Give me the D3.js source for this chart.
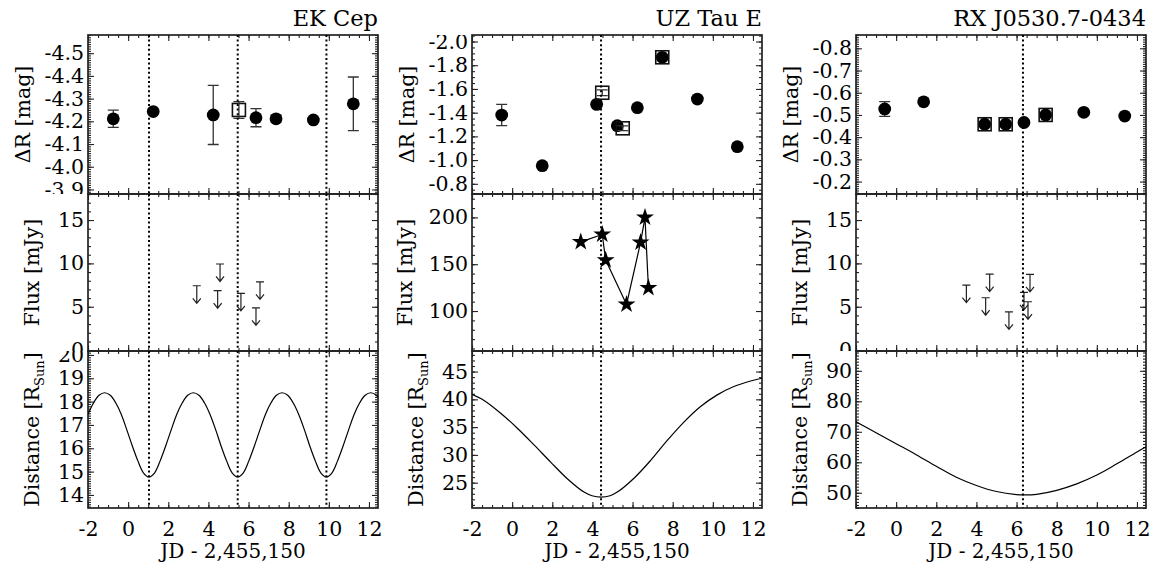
<!DOCTYPE html>
<html>
<head>
<meta charset="utf-8">
<script src="https://cdn.jsdelivr.net/npm/d3@7"></script>
<style>
  body { margin: 0; background: #fff; }
  svg text { font-family: "DejaVu Serif", serif; fill: #000; }
</style>
</head>
<body>
<svg id="chart" width="1151" height="566"></svg>
<script>
// ---- data ----
const titles = ["EK Cep", "UZ Tau E", "RX J0530.7-0434"];

// EK Cep
const ekPhotJD  = [-0.74, 1.25, 4.24, 6.37, 7.37, 9.23, 11.22];
const ekPhotMag = [-4.211, -4.243, -4.228, -4.216, -4.211, -4.206, -4.277];
const ekPhotErr = [0.038, 0.006, 0.13, 0.04, 0.015, 0.01, 0.118];
const ekSqJD  = [5.52];
const ekSqMag = [-4.25];
const ekSqErr = [0.037];
const ekFluxJD  = [3.42, 4.58, 4.46, 5.62, 6.57, 6.37];
const ekFluxLim = [7.42, 9.93, 6.85, 6.55, 7.88, 4.88];
const ekPeri = [1.04, 5.46, 9.88];
const ekDistJD = [-2.0, -1.72, -1.45, -1.17, -0.89, -0.62, -0.34, -0.07, 0.21, 0.49, 0.76,
  1.04, 1.32, 1.59, 1.87, 2.15, 2.42, 2.70, 2.97, 3.25, 3.53, 3.80, 4.08, 4.36, 4.63, 4.91, 5.18,
  5.46, 5.74, 6.01, 6.29, 6.57, 6.84, 7.12, 7.39, 7.67, 7.95, 8.22, 8.50, 8.78, 9.05, 9.33, 9.60,
  9.88, 10.16, 10.43, 10.71, 10.99, 11.26, 11.54, 11.81, 12.09, 12.37, 12.64];
const ekDistR = [17.45, 17.95, 18.27, 18.38, 18.27, 17.95, 17.45, 16.80, 16.10, 15.45, 14.95,
  14.77, 14.95, 15.45, 16.10, 16.80, 17.45, 17.95, 18.27, 18.38, 18.27, 17.95, 17.45, 16.80, 16.10, 15.45, 14.95,
  14.77, 14.95, 15.45, 16.10, 16.80, 17.45, 17.95, 18.27, 18.38, 18.27, 17.95, 17.45, 16.80, 16.10, 15.45, 14.95,
  14.77, 14.95, 15.45, 16.10, 16.80, 17.45, 17.95, 18.27, 18.38, 18.27, 17.95];

// UZ Tau E
const uzPhotJD  = [-0.52, 1.50, 4.21, 5.24, 6.24, 7.48, 9.23, 11.22];
const uzPhotMag = [-1.380, -0.953, -1.470, -1.290, -1.442, -1.867, -1.515, -1.113];
const uzPhotErr = [0.09, 0, 0, 0, 0, 0, 0, 0];
const uzSqJD  = [4.49, 5.51, 7.48];
const uzSqMag = [-1.568, -1.268, -1.867];
const uzSqErr = [0.025, 0.02, 0];
const uzFluxJD  = [3.42, 4.49, 4.66, 5.70, 6.40, 6.62, 6.79];
const uzFluxMJy = [173.9, 181.8, 154.4, 107.0, 173.3, 200.0, 124.8];
const uzPeri = [4.43];
const uzDistJD = [-2.0, -1.4, -0.57, 0.26, 1.09, 1.92, 2.75, 3.58, 3.98, 4.43, 4.88, 5.24, 6.07, 6.90, 7.73, 8.56, 9.39, 10.22, 11.05, 11.88, 12.45];
const uzDistR  = [40.9, 39.8, 37.5, 34.8, 31.8, 28.7, 25.7, 23.3, 22.65, 22.4, 22.65, 23.3, 25.8, 29.0, 32.6, 35.9, 38.7, 40.8, 42.3, 43.3, 43.8];

// RX J0530.7-0434
const rxPhotJD  = [-0.57, 1.37, 4.41, 5.46, 6.37, 7.45, 9.35, 11.39];
const rxPhotMag = [-0.527, -0.559, -0.458, -0.458, -0.466, -0.500, -0.512, -0.495];
const rxPhotErr = [0.033, 0, 0, 0, 0, 0, 0, 0];
const rxSqJD  = [4.41, 5.46, 7.45];
const rxSqMag = [-0.458, -0.458, -0.500];
const rxSqErr = [0, 0, 0];
const rxFluxJD  = [3.50, 4.66, 4.46, 5.62, 6.37, 6.67, 6.57];
const rxFluxLim = [7.50, 8.77, 6.04, 4.42, 6.66, 8.74, 5.58];
const rxPeri = [6.32];
const rxDistJD = [-2, -1, 0, 1, 2, 3, 4, 5, 6, 6.4, 7, 8, 9, 10, 11, 12, 12.45];
const rxDistR  = [73.3, 69.7, 66.1, 62.5, 58.7, 55.1, 52.4, 50.4, 49.4, 49.3, 49.5, 50.8, 52.9, 55.8, 59.5, 63.4, 65.1];

const xTicks = [-2, 0, 2, 4, 6, 8, 10, 12];
const xLabel = "JD - 2,455,150";

// ---- layout ----
const colX = [88, 472, 856], colW = 290;
const rowY = [35, 194, 351, 508];
const ink = "#222";
const serif = "DejaVu Serif, serif";

const zip = (a, b, c) => a.map((v, i) => ({ x: v, y: b[i], e: c ? c[i] : 0 }));

const columns = [
  {
    title: titles[0],
    phot: zip(ekPhotJD, ekPhotMag, ekPhotErr), sq: zip(ekSqJD, ekSqMag, ekSqErr),
    magDomain: [-4.58, -3.88], magStep: 0.1, magMinor: 0.01,
    flux: zip(ekFluxJD, ekFluxLim), fluxLimits: true,
    fluxDomain: [-0.1, 18], fluxStep: 5, fluxMinor: 1,
    dist: zip(ekDistJD, ekDistR), distDomain: [13.44, 20.17], distStep: 1, distMinor: 0.1,
    peri: ekPeri, lab: [-65, -56, -56]
  },
  {
    title: titles[1],
    phot: zip(uzPhotJD, uzPhotMag, uzPhotErr), sq: zip(uzSqJD, uzSqMag, uzSqErr),
    magDomain: [-2.055, -0.714], magStep: 0.2, magMinor: 0.05,
    flux: zip(uzFluxJD, uzFluxMJy), fluxLimits: false,
    fluxDomain: [57.3, 225], fluxStep: 50, fluxMinor: 10,
    dist: zip(uzDistJD, uzDistR), distDomain: [20.44, 48.7], distStep: 5, distMinor: 1,
    peri: uzPeri, lab: [-65, -67, -56]
  },
  {
    title: titles[2],
    phot: zip(rxPhotJD, rxPhotMag, rxPhotErr), sq: zip(rxSqJD, rxSqMag, rxSqErr),
    magDomain: [-0.86, -0.144], magStep: 0.1, magMinor: 0.01,
    flux: zip(rxFluxJD, rxFluxLim), fluxLimits: true,
    fluxDomain: [-0.1, 18], fluxStep: 5, fluxMinor: 1,
    dist: zip(rxDistJD, rxDistR), distDomain: [45, 96.5], distStep: 10, distMinor: 1,
    peri: rxPeri, lab: [-65, -56, -56]
  }
];

const svg = d3.select("#chart");
svg.append("rect").attr("width", 1151).attr("height", 566).attr("fill", "#fff");
const defs = svg.append("defs");

// multiples of step inside a domain
function steps(dom, step) {
  const lo = Math.ceil(Math.min(...dom) / step - 1e-6), hi = Math.floor(Math.max(...dom) / step + 1e-6);
  return d3.range(lo, hi + 1).map(k => +(k * step).toFixed(6));
}

let clipN = 0;
// flip=true: first domain value at the top (magnitudes)
function panel(ci, ri, yDomain, flip, yStep, yMinor, fmt, label, labDx) {
  const x0 = colX[ci], x1 = x0 + colW, y0 = rowY[ri], y1 = rowY[ri + 1];
  const x = d3.scaleLinear().domain([-2, 12.45]).range([x0, x1]);
  const y = d3.scaleLinear().domain(yDomain).range(flip ? [y0, y1] : [y1, y0]);
  const g = svg.append("g");

  const clean = s => s.call(a => a.select(".domain").remove())
    .attr("font-family", serif).attr("font-size", 20.5)
    .call(a => a.selectAll("line").attr("stroke", ink).attr("stroke-width", 1.1));

  // y ticks (labels clipped to the panel strip, like the original)
  const id = "clip" + (clipN++);
  defs.append("clipPath").attr("id", id).append("rect")
    .attr("x", x0 - 120).attr("y", y0).attr("width", 140).attr("height", y1 - y0);
  g.append("g").attr("clip-path", `url(#${id})`)
    .append("g").attr("transform", `translate(${x0},0)`)
    .call(d3.axisLeft(y).tickValues(steps(yDomain, yStep)).tickSize(-6).tickPadding(4).tickFormat(fmt))
    .call(clean);
  g.append("g").attr("transform", `translate(${x0},0)`)
    .call(d3.axisLeft(y).tickValues(steps(yDomain, yMinor)).tickSize(-3).tickFormat("")).call(clean);
  g.append("g").attr("transform", `translate(${x1},0)`)
    .call(d3.axisRight(y).tickValues(steps(yDomain, yStep)).tickSize(-6).tickFormat("")).call(clean);
  g.append("g").attr("transform", `translate(${x1},0)`)
    .call(d3.axisRight(y).tickValues(steps(yDomain, yMinor)).tickSize(-3).tickFormat("")).call(clean);

  // x ticks top and bottom
  const showX = ri === 2;
  g.append("g").attr("transform", `translate(0,${y1})`)
    .call(d3.axisBottom(x).tickValues(xTicks).tickSize(-6).tickPadding(13).tickFormat(showX ? d => String(d) : ""))
    .call(clean);
  g.append("g").attr("transform", `translate(0,${y1})`)
    .call(d3.axisBottom(x).tickValues(d3.range(-2, 12.01, 0.5)).tickSize(-3).tickFormat("")).call(clean);
  g.append("g").attr("transform", `translate(0,${y0})`)
    .call(d3.axisTop(x).tickValues(xTicks).tickSize(-6).tickFormat("")).call(clean);
  g.append("g").attr("transform", `translate(0,${y0})`)
    .call(d3.axisTop(x).tickValues(d3.range(-2, 12.01, 0.5)).tickSize(-3).tickFormat("")).call(clean);

  g.append("rect").attr("x", x0).attr("y", y0).attr("width", colW).attr("height", y1 - y0)
    .attr("fill", "none").attr("stroke", ink).attr("stroke-width", 1.7);

  // y axis title
  const t = g.append("text")
    .attr("transform", `translate(${x0 + labDx},${(y0 + y1) / 2}) rotate(-90)`)
    .attr("text-anchor", "middle").attr("dy", "0.35em")
    .attr("font-family", serif).attr("font-size", 20.5);
  label(t);

  // plot area clip
  const pid = "pclip" + (clipN++);
  defs.append("clipPath").attr("id", pid).append("rect")
    .attr("x", x0).attr("y", y0).attr("width", colW).attr("height", y1 - y0);
  const plot = g.append("g").attr("clip-path", `url(#${pid})`);
  return { x, y, plot, y0, y1 };
}

function errBars(p, data, cap) {
  const d = data.filter(v => v.e > 0);
  p.plot.selectAll(null).data(d).join("path")
    .attr("d", v => {
      const cx = p.x(v.x), ya = p.y(v.y - v.e), yb = p.y(v.y + v.e);
      return `M${cx},${ya}V${yb}M${cx - cap},${ya}H${cx + cap}M${cx - cap},${yb}H${cx + cap}`;
    })
    .attr("fill", "none").attr("stroke", "#333").attr("stroke-width", 1.3);
}

columns.forEach((c, ci) => {
  // --- top: delta R ---
  const p1 = panel(ci, 0, c.magDomain, true, c.magStep, c.magMinor, d => d.toFixed(1),
    t => t.text("\u0394R [mag]"), c.lab[0]);
  errBars(p1, c.phot, 5.5);
  p1.plot.selectAll(null).data(c.phot).join("circle")
    .attr("cx", d => p1.x(d.x)).attr("cy", d => p1.y(d.y)).attr("r", 6.4).attr("fill", "#000");
  p1.plot.selectAll(null).data(c.sq).join("rect")
    .attr("x", d => p1.x(d.x) - 6.5).attr("y", d => p1.y(d.y) - 6.5)
    .attr("width", 13).attr("height", 13)
    .attr("fill", "none").attr("stroke", "#111").attr("stroke-width", 1.6);
  errBars(p1, c.sq, 5.5);

  // --- middle: flux ---
  const p2 = panel(ci, 1, c.fluxDomain, false, c.fluxStep, c.fluxMinor, d => String(d),
    t => t.text("Flux [mJy]"), c.lab[1]);
  if (c.fluxLimits) {
    p2.plot.selectAll(null).data(c.flux).join("path")
      .attr("d", d => {
        const cx = p2.x(d.x), cy = p2.y(d.y);
        return `M${cx - 4},${cy}H${cx + 4}M${cx},${cy}V${cy + 17.5}` +
               `M${cx - 4},${cy + 12.5}L${cx},${cy + 17.5}L${cx + 4},${cy + 12.5}`;
      })
      .attr("fill", "none").attr("stroke", ink).attr("stroke-width", 1.2);
  } else {
    p2.plot.append("path").datum(c.flux)
      .attr("d", d3.line().x(d => p2.x(d.x)).y(d => p2.y(d.y)))
      .attr("fill", "none").attr("stroke", "#000").attr("stroke-width", 1.2);
    const star = d3.symbol().type(d3.symbolStar).size(100);
    p2.plot.selectAll(null).data(c.flux).join("path")
      .attr("transform", d => `translate(${p2.x(d.x)},${p2.y(d.y)})`)
      .attr("d", star).attr("fill", "#000");
  }

  // --- bottom: distance ---
  const p3 = panel(ci, 2, c.distDomain, false, c.distStep, c.distMinor, d => String(d),
    t => {
      t.append("tspan").text("Distance [R");
      t.append("tspan").attr("font-size", 13).attr("dy", 5).text("Sun");
      t.append("tspan").attr("dy", -5).text("]");
    }, c.lab[2]);
  p3.plot.append("path").datum(c.dist)
    .attr("d", d3.line().curve(d3.curveCatmullRom).x(d => p3.x(d.x)).y(d => p3.y(d.y)))
    .attr("fill", "none").attr("stroke", "#000").attr("stroke-width", 1.2);

  // periastron markers through all three panels
  [p1, p2, p3].forEach(p => {
    p.plot.selectAll(null).data(c.peri).join("line")
      .attr("x1", d => p.x(d)).attr("x2", d => p.x(d))
      .attr("y1", p.y0).attr("y2", p.y1)
      .attr("stroke", "#000").attr("stroke-width", 2).attr("stroke-dasharray", "2,2.6");
  });

  // titles
  svg.append("text").attr("x", colX[ci] + colW).attr("y", 26)
    .attr("text-anchor", "end").attr("font-family", serif).attr("font-size", 22.5).text(c.title);
  svg.append("text").attr("x", colX[ci] + colW / 2).attr("y", 558)
    .attr("text-anchor", "middle").attr("font-family", serif).attr("font-size", 20).text(xLabel);
});
</script>
</body>
</html>
